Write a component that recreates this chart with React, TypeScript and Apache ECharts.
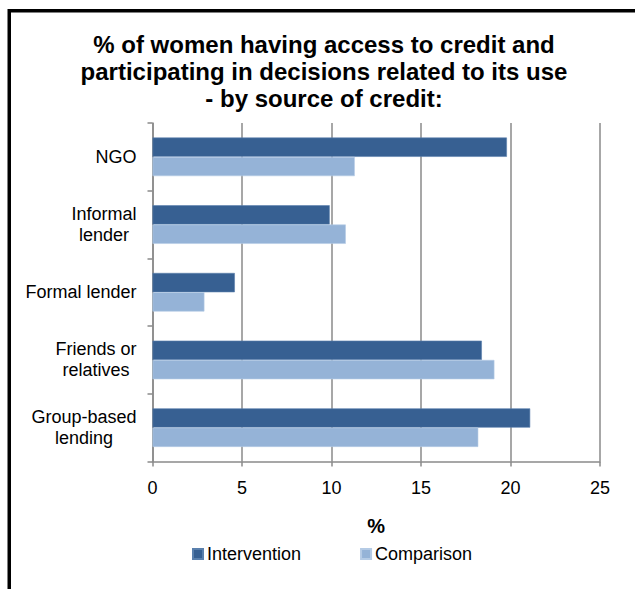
import React, { useEffect, useRef } from "react";
import * as echarts from "echarts";

const categories = [
  "NGO",
  "Informal\nlender",
  "Formal lender",
  "Friends or\nrelatives",
  "Group-based\nlending",
];
const intervention = [19.8, 9.9, 4.6, 18.4, 21.1];
const comparison = [11.3, 10.8, 2.9, 19.1, 18.2];
const seriesNames = ["Intervention", "Comparison"];
const xTicks = { min: 0, max: 25, interval: 5 };

const FONT = "'Liberation Sans', Arial, Helvetica, sans-serif";
const GRID_COLOR = "#8a8a8a";

export default function App() {
  const ref = useRef<HTMLDivElement>(null);

  useEffect(() => {
    if (!ref.current) return;
    const chart = echarts.init(ref.current, null, { renderer: "svg" });
    chart.setOption({
      animation: false,
      backgroundColor: "#ffffff",
      title: {
        text:
          "% of women having access to credit and\nparticipating in decisions related to its use\n- by source of credit:",
        left: 324,
        top: 31,
        padding: 0,
        textAlign: "center",
        textStyle: {
          fontFamily: FONT,
          fontSize: 24,
          fontWeight: "bold",
          color: "#000000",
          lineHeight: 27,
        },
      },
      graphic: [
        {
          type: "rect",
          shape: { x: 9.25, y: 10.75, width: 800, height: 800 },
          style: { fill: "none", stroke: "#000000", lineWidth: 3.5 },
          silent: true,
          z: 100,
        },
      ],
      legend: {
        left: 187,
        top: 540,
        itemWidth: 10,
        itemHeight: 10,
        itemGap: 59,
        icon: "rect",
        textStyle: { fontFamily: FONT, fontSize: 18, color: "#000000", padding: [0, 0, 0, -1] },
        data: seriesNames,
      },
      grid: {
        left: 152.5,
        right: 35,
        top: 123,
        bottom: 127.5,
        containLabel: false,
      },
      xAxis: {
        type: "value",
        min: xTicks.min,
        max: xTicks.max,
        interval: xTicks.interval,
        name: "%",
        nameLocation: "middle",
        nameGap: 54,
        nameTextStyle: {
          fontFamily: FONT,
          fontSize: 20,
          fontWeight: "bold",
          color: "#000000",
        },
        axisLine: { show: true, lineStyle: { color: GRID_COLOR, width: 1.5 } },
        axisTick: { show: true, length: 5, lineStyle: { color: GRID_COLOR, width: 1.5 } },
        axisLabel: {
          fontFamily: FONT,
          fontSize: 18,
          color: "#000000",
          margin: 17,
        },
        splitLine: { show: true, lineStyle: { color: GRID_COLOR, width: 1.5 } },
      },
      yAxis: {
        type: "category",
        inverse: true,
        data: categories,
        axisLine: { show: true, lineStyle: { color: GRID_COLOR, width: 1.5 } },
        axisTick: { show: true, length: 5, lineStyle: { color: GRID_COLOR, width: 1.5 } },
        axisLabel: {
          margin: 16,
          fontFamily: FONT,
          fontSize: 18,
          color: "#000000",
          formatter: (v: string) =>
            v
              .split("\n")
              .map((l) => `{c|${l}}`)
              .join("\n"),
          rich: {
            c: {
              align: "center",
              fontFamily: FONT,
              fontSize: 18,
              lineHeight: 21,
              color: "#000000",
            },
          },
        },
        splitLine: { show: false },
      },
      series: [
        {
          name: seriesNames[0],
          type: "bar",
          data: intervention,
          barGap: "0%",
          barCategoryGap: "43%",
          itemStyle: { color: "#376092", borderColor: "#5a80ad", borderWidth: 0.6 },
        },
        {
          name: seriesNames[1],
          type: "bar",
          data: comparison,
          barGap: "0%",
          barCategoryGap: "43%",
          itemStyle: { color: "#95b3d7", borderColor: "#b5cbe5", borderWidth: 0.6 },
        },
      ],
    });
    return () => chart.dispose();
  }, []);

  return (
    <div
      ref={ref}
      style={{ position: "fixed", left: 0, top: 0, width: 635, height: 589 }}
    />
  );
}
